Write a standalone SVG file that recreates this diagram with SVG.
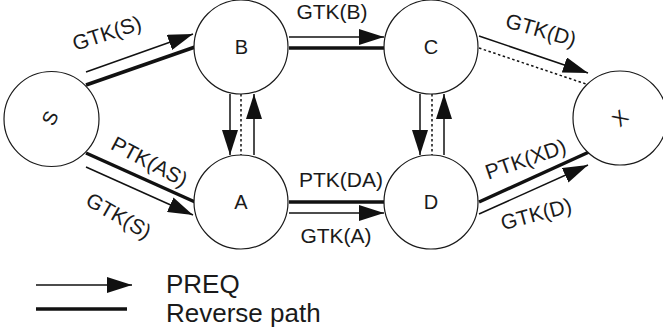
<svg xmlns="http://www.w3.org/2000/svg" width="663" height="335" viewBox="0 0 663 335">
  <style>
    .node circle { fill: #ffffff; stroke: #1a1a1a; stroke-width: 1.2; }
    .node text { font-family: "Liberation Sans", Arial, sans-serif; font-size: 20px; fill: #1a1a1a; text-anchor: middle; dominant-baseline: central; }
    .thin { stroke: #111; stroke-width: 1.5; fill: none; }
    .thick { stroke: #111; stroke-width: 3.5; fill: none; }
    .dot { stroke: #111; stroke-width: 1.5; fill: none; stroke-dasharray: 2.5 2.5; }
    .lbl { font-family: "Liberation Sans", Arial, sans-serif; font-size: 21px; fill: #1a1a1a; text-anchor: middle; }
    .legend { font-family: "Liberation Sans", Arial, sans-serif; font-size: 26px; fill: #1a1a1a; }
  </style>
  <defs>
    <marker id="head" markerUnits="userSpaceOnUse" markerWidth="26" markerHeight="16" refX="25" refY="8" orient="auto">
      <path d="M0,0 L25,8 L0,16 Z" fill="#111"/>
    </marker>
  </defs>

  <rect width="663" height="335" fill="#ffffff"/>

  <!-- connectors -->
  <g id="connectors">
    <!-- S - B -->
    <path class="thin" d="M86,72 L193,34" marker-end="url(#head)"/>
    <path class="thick" d="M86,85 L195,47"/>
    <!-- B - C -->
    <path class="thin" d="M289,37 L384,37" marker-end="url(#head)"/>
    <path class="thick" d="M289,48 L384,48"/>
    <!-- C - X -->
    <path class="thin" d="M479,36 L588,73" marker-end="url(#head)"/>
    <path class="dot" d="M479,48 L589,85"/>
    <!-- B - A -->
    <path class="thin" d="M230,94 L230,155" marker-end="url(#head)"/>
    <path class="dot" d="M241,94 L241,155"/>
    <path class="thin" d="M254,155 L254,94" marker-end="url(#head)"/>
    <!-- C - D -->
    <path class="thin" d="M420,94 L420,155" marker-end="url(#head)"/>
    <path class="dot" d="M432,94 L432,155"/>
    <path class="thin" d="M444,155 L444,94" marker-end="url(#head)"/>
    <!-- S - A -->
    <path class="thick" d="M86,153 L195,202"/>
    <path class="thin" d="M86,167 L193,215" marker-end="url(#head)"/>
    <!-- A - D -->
    <path class="thick" d="M289,202 L384,202"/>
    <path class="thin" d="M289,213 L384,213" marker-end="url(#head)"/>
    <!-- D - X -->
    <path class="thick" d="M479,202 L589,152"/>
    <path class="thin" d="M479,214 L588,165" marker-end="url(#head)"/>
  </g>

  <!-- edge labels -->
  <g id="edge-labels">
    <text class="lbl" transform="translate(109,40) rotate(-18)">GTK(S)</text>
    <text class="lbl" x="332" y="19">GTK(B)</text>
    <text class="lbl" transform="translate(539,37) rotate(16)">GTK(D)</text>
    <text class="lbl" transform="translate(146,168) rotate(28)">PTK(AS)</text>
    <text class="lbl" transform="translate(115,222) rotate(30)">GTK(S)</text>
    <text class="lbl" x="341" y="187">PTK(DA)</text>
    <text class="lbl" x="336" y="243">GTK(A)</text>
    <text class="lbl" transform="translate(528,166) rotate(-19)">PTK(XD)</text>
    <text class="lbl" transform="translate(538,221) rotate(-15)">GTK(D)</text>
  </g>

  <!-- nodes -->
  <g id="node-S" class="node">
    <circle cx="51.5" cy="119" r="47.5"/>
    <text transform="translate(50,118) rotate(-65)">S</text>
  </g>
  <g id="node-B" class="node">
    <circle cx="241" cy="47" r="47"/>
    <text x="241.5" y="47">B</text>
  </g>
  <g id="node-C" class="node">
    <circle cx="431" cy="47" r="47"/>
    <text x="431" y="47">C</text>
  </g>
  <g id="node-A" class="node">
    <circle cx="241" cy="202" r="47"/>
    <text x="241" y="202">A</text>
  </g>
  <g id="node-D" class="node">
    <circle cx="431" cy="202" r="47"/>
    <text x="431" y="202">D</text>
  </g>
  <g id="node-X" class="node">
    <circle cx="620" cy="118" r="47"/>
    <text transform="translate(620,118) rotate(-43)">X</text>
  </g>

  <!-- legend -->
  <g id="legend">
    <path class="thin" d="M36,285 L132,285" marker-end="url(#head)"/>
    <path class="thick" d="M36,309 L127,309"/>
    <text class="legend" x="166" y="293">PREQ</text>
    <text class="legend" x="166" y="322">Reverse path</text>
  </g>
</svg>
